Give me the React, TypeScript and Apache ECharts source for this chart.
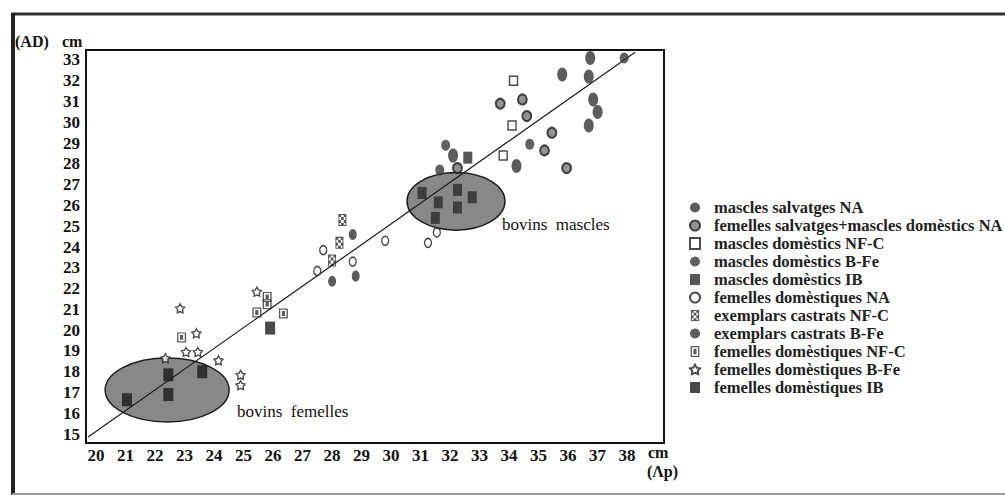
import React, { useEffect, useRef } from "react";
import * as echarts from "echarts";

// ---- tick labels ----
const xTicks = [20, 21, 22, 23, 24, 25, 26, 27, 28, 29, 30, 31, 32, 33, 34, 35, 36, 37, 38];
const yTicks = [15, 16, 17, 18, 19, 20, 21, 22, 23, 24, 25, 26, 27, 28, 29, 30, 31, 32, 33];

// ---- series (Ap, AD) ----
const masclesSalvatgesNA = [
  [36.75, 33.1], [35.8, 32.3], [36.7, 32.2], [36.85, 31.1], [37.0, 30.5], [36.7, 29.85], [32.1, 28.4], [34.25, 27.9],
];
const femellesSalvMasclesDomNA = [
  [33.7, 30.9], [34.45, 31.1], [34.6, 30.3], [35.45, 29.5], [35.2, 28.65], [35.95, 27.8], [32.25, 27.8],
];
const masclesDomNFC = [[34.15, 32.0], [34.1, 29.85], [33.8, 28.4]];
const masclesDomBFe = [[37.9, 33.1], [34.7, 28.95], [31.85, 28.9], [31.65, 27.7]];
const masclesDomIB = [
  [31.05, 26.6], [31.6, 26.15], [32.25, 26.75], [32.25, 25.9], [32.75, 26.4], [31.5, 25.4], [32.6, 28.3],
];
const femellesDomNA = [
  [27.7, 23.85], [29.8, 24.3], [31.25, 24.2], [31.55, 24.7], [28.7, 23.3], [27.5, 22.85],
];
const castratsNFC = [[28.35, 25.3], [28.25, 24.2], [28.0, 23.35]];
const castratsBFe = [[28.7, 24.6], [28.0, 22.35], [28.8, 22.6]];
const femellesDomNFC = [[22.9, 19.65], [25.8, 21.6], [25.8, 21.25], [25.45, 20.85], [26.35, 20.8]];
const femellesDomBFe = [
  [23.4, 19.85], [23.05, 18.95], [23.45, 18.95], [24.15, 18.55], [24.9, 17.85], [24.9, 17.35],
  [22.35, 18.65], [22.85, 21.05], [25.45, 21.85],
];
const femellesDomIB = [[22.45, 17.85], [23.6, 18.0], [21.05, 16.65], [22.45, 16.9], [25.9, 20.1]];

// regression line end points
const lineX = [19.73, 38.27];
const lineY = [14.86, 33.37];

// groups: centre x, centre y, radius x, radius y (axis units)
const ellipseGroups = [
  [22.41, 17.12, 2.1, 1.54],
  [32.2, 26.2, 1.66, 1.39],
];

const checkerPath =
  "path://M0 0H6V8H0Z M0.7 0.7V7.3H5.3V0.7Z M0 0H2V2H0Z M4 0H6V2H4Z M2 2H4V4H2Z M0 4H2V6H0Z M4 4H6V6H4Z M2 6H4V8H2Z";
const framedSquarePath = "path://M0 0H8V10H0Z M1.2 1.2V8.8H6.8V1.2Z M2.6 2.6H5.4V7.4H2.6Z";
const starPath =
  "path://M0 -1L0.323 -0.445L0.951 -0.309L0.523 0.17L0.588 0.809L0 0.55L-0.588 0.809L-0.523 0.17L-0.951 -0.309L-0.323 -0.445Z";

const SERIF = "'Liberation Serif', 'DejaVu Serif', serif";
const INK = "#1e1e1e";

export default function App() {
  const ref = useRef<HTMLDivElement>(null);

  useEffect(() => {
    if (!ref.current) return;
    const chart = echarts.init(ref.current, undefined, { renderer: "svg" });

    const mk = (name: string, data: number[][], symbol: string, size: number[], style: any) => ({
      name,
      type: "scatter",
      data,
      symbol,
      symbolSize: size,
      itemStyle: style,
      z: 5,
    });

    const scatterSeries = [
      mk("mascles salvatges NA", masclesSalvatgesNA, "circle", [10, 14], { color: "#333" }),
      mk("femelles salvatges+mascles domèstics NA", femellesSalvMasclesDomNA, "circle", [9, 10], {
        color: "#777",
        borderColor: INK,
        borderWidth: 2,
      }),
      mk("mascles domèstics NF-C", masclesDomNFC, "rect", [8, 9], {
        color: "#fff",
        borderColor: INK,
        borderWidth: 1.5,
      }),
      mk("mascles domèstics B-Fe", masclesDomBFe, "circle", [9, 11], { color: "#3a3a3a" }),
      mk("mascles domèstics IB", masclesDomIB, "rect", [9, 12], { color: "#2c2c2c" }),
      mk("femelles domèstiques NA", femellesDomNA, "circle", [7, 9], {
        color: "#fff",
        borderColor: INK,
        borderWidth: 1.5,
      }),
      mk("exemplars castrats NF-C", castratsNFC, checkerPath, [8, 12], { color: "#2a2a2a" }),
      mk("exemplars castrats B-Fe", castratsBFe, "circle", [8, 11], { color: "#333" }),
      mk("femelles domèstiques NF-C", femellesDomNFC, framedSquarePath, [9, 10], { color: "#333" }),
      mk("femelles domèstiques B-Fe", femellesDomBFe, starPath, [9, 9], {
        color: "#fff",
        borderColor: INK,
        borderWidth: 1.4,
      }),
      mk("femelles domèstiques IB", femellesDomIB, "rect", [10, 13], { color: "#1a1a1a" }),
    ];

    const option: any = {
      animation: false,
      backgroundColor: "#fff",
      grid: {
        left: 86,
        right: 341,
        top: 50,
        bottom: 52,
        show: true,
        borderColor: "#111",
        borderWidth: 2,
        backgroundColor: "transparent",
      },
      xAxis: {
        type: "value",
        min: 19.66,
        max: 39.25,
        axisLine: { show: false },
        axisTick: { show: false },
        splitLine: { show: false },
        axisLabel: {
          customValues: xTicks,
          margin: 4,
          fontFamily: SERIF,
          fontWeight: "bold",
          fontSize: 17,
          color: "#111",
        },
      },
      yAxis: {
        type: "value",
        min: 14.57,
        max: 33.48,
        axisLine: { show: false },
        axisTick: { show: false },
        splitLine: { show: false },
        axisLabel: {
          customValues: yTicks,
          margin: 6,
          fontFamily: SERIF,
          fontWeight: "bold",
          fontSize: 17,
          color: "#111",
        },
      },
      legend: {
        orient: "vertical",
        left: 689,
        top: 199,
        padding: 0,
        itemWidth: 10,
        itemHeight: 11,
        itemGap: 1,
        data: scatterSeries.map((s) => s.name),
        textStyle: {
          fontFamily: SERIF,
          fontWeight: "bold",
          fontSize: 16.5,
          lineHeight: 16,
          color: "#222",
          padding: [0, 0, 0, 9],
        },
      },
      graphic: [
        { type: "line", shape: { x1: 12, y1: 14, x2: 1005, y2: 14 }, style: { stroke: "#333", lineWidth: 3 } },
        { type: "line", shape: { x1: 13, y1: 13, x2: 13, y2: 495 }, style: { stroke: "#222", lineWidth: 4 } },
        { type: "line", shape: { x1: 12, y1: 494, x2: 1005, y2: 494 }, style: { stroke: "#999", lineWidth: 2 } },
        {
          type: "text",
          left: 15,
          top: 33,
          style: { text: "(AD)", font: `bold 16px ${SERIF}`, fill: "#111" },
        },
        {
          type: "text",
          left: 62,
          top: 33,
          style: { text: "cm", font: `bold 16px ${SERIF}`, fill: "#111" },
        },
        {
          type: "text",
          left: 648,
          top: 444,
          style: { text: "cm", font: `bold 16px ${SERIF}`, fill: "#111" },
        },
        {
          type: "text",
          left: 647,
          top: 463,
          style: { text: "(Λp)", font: `bold 16px ${SERIF}`, fill: "#111" },
        },
        {
          type: "text",
          left: 237,
          top: 403,
          z: 10,
          style: { text: "bovins  femelles", font: `17px ${SERIF}`, fill: "#111" },
        },
        {
          type: "text",
          left: 502,
          top: 216,
          z: 10,
          style: { text: "bovins  mascles", font: `17px ${SERIF}`, fill: "#111" },
        },
      ],
      series: [
        {
          name: "groups",
          type: "custom",
          z: 1,
          silent: true,
          data: ellipseGroups,
          encode: { x: 0, y: 1 },
          renderItem: (_p: any, api: any) => {
            const c = api.coord([api.value(0), api.value(1)]);
            const s = api.size([api.value(2), api.value(3)]);
            return {
              type: "ellipse",
              shape: { cx: c[0], cy: c[1], rx: s[0], ry: s[1] },
              style: { fill: "#888", stroke: "#1e1e1e", lineWidth: 1.5 },
            };
          },
        },
        {
          name: "regression",
          type: "line",
          z: 3,
          silent: true,
          symbol: "none",
          data: lineX.map((x, i) => [x, lineY[i]]),
          lineStyle: { color: "#1a1a1a", width: 1.2 },
        },
        ...scatterSeries,
      ],
    };

    chart.setOption(option);
    return () => chart.dispose();
  }, []);

  return (
    <div
      ref={ref}
      style={{ position: "fixed", left: 0, top: 0, width: 1005, height: 495, background: "#fff" }}
    />
  );
}
